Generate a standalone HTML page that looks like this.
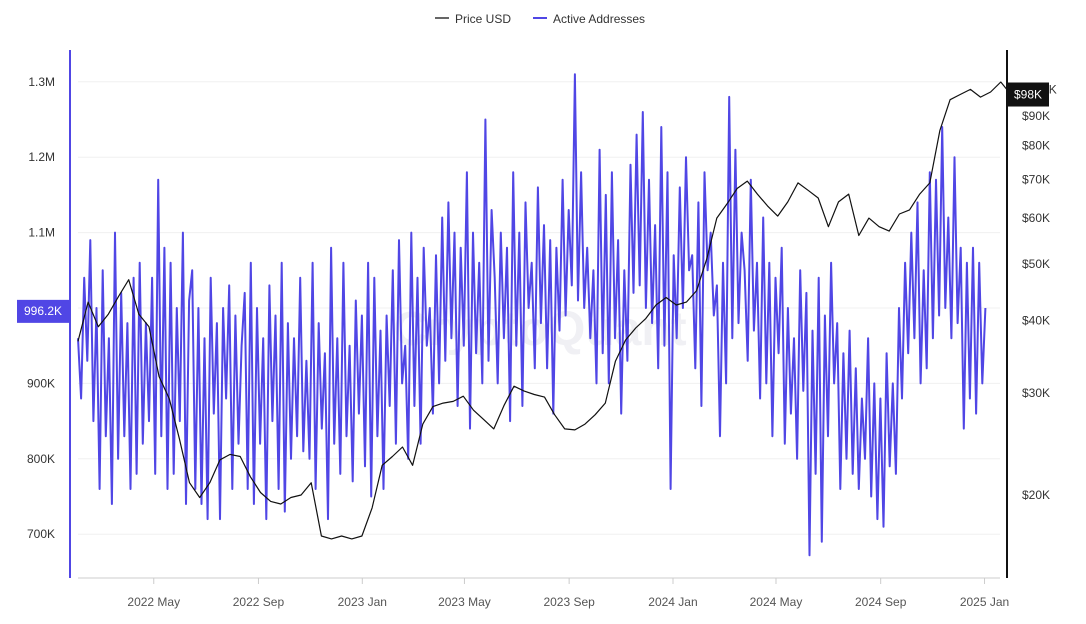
<!DOCTYPE html>
<html><head><meta charset="utf-8"><style>
body{margin:0;background:#fff;font-family:"Liberation Sans",sans-serif;}
svg text{font-family:"Liberation Sans",sans-serif;}
</style></head><body>
<svg id="chart" width="1086" height="619" viewBox="0 0 1086 619" xmlns="http://www.w3.org/2000/svg">
<g id="legend">
  <g><line x1="435" y1="18" x2="449" y2="18" stroke="#333" stroke-width="1.5"/><text x="455" y="23" font-size="12" fill="#333">Price USD</text></g>
  <g><line x1="533" y1="18" x2="547" y2="18" stroke="#5046e5" stroke-width="2"/><text x="553" y="23" font-size="12" fill="#333">Active Addresses</text></g>
</g>
<text x="540" y="345" font-size="48" fill="#f0f0f4" text-anchor="middle" font-weight="bold">CryptoQuant</text>
<g id="grid"></g>
<g id="axes"></g>
<g id="series"></g>
<g id="badges"></g>
</svg>
<script>
const activeTicks=[700,800,900,1000,1100,1200,1300];
const priceTicks=[20,30,40,50,60,70,80,90,100];
const monthLabels=["2022 May","2022 Sep","2023 Jan","2023 May","2023 Sep","2024 Jan","2024 May","2024 Sep","2025 Jan"];
const monthDates=["2022-05-01","2022-09-01","2023-01-01","2023-05-01","2023-09-01","2024-01-01","2024-05-01","2024-09-01","2025-01-01"];
const activeStart="2022-02-01", activeEnd="2025-01-02";
const priceStart="2022-02-01", priceEnd="2025-02-01";
const activeValues=[960,880,1040,930,1090,850,1000,760,1050,830,960,740,1100,800,1020,830,980,760,1040,780,
1060,820,980,850,1040,780,1170,830,1080,760,1060,780,1000,850,1100,740,1010,
1050,760,1000,740,960,720,1040,860,980,720,1000,880,1030,760,990,820,950,
1020,760,1060,740,1000,820,960,720,1030,850,990,760,1060,730,980,800,
960,830,1040,810,930,800,1060,760,980,840,940,720,1080,820,960,780,
1060,830,950,770,1010,860,990,790,1060,750,1040,830,970,760,990,870,
1050,820,1090,900,950,800,1100,870,1040,820,1080,950,1000,860,1070,900,
1120,930,1140,960,1100,870,1080,950,1180,840,1100,940,1060,900,1250,930,1130,
1040,900,1100,960,1080,850,1180,950,1100,870,1140,1000,1060,920,1160,980,
1110,920,1090,860,1080,970,1170,990,1130,1030,1310,1010,1180,1000,1080,960,
1050,900,1210,940,1150,900,1180,960,1090,860,1050,930,1190,1020,1230,1030,
1260,1000,1170,980,1110,920,1240,950,1180,760,1070,960,1160,1000,1200,1050,
1070,920,1140,870,1180,1050,1100,990,1030,830,1060,900,1280,960,1210,980,1100,
1050,930,1170,970,1060,880,1120,900,1060,830,1040,940,1080,820,1000,860,
960,800,1050,890,1020,672,970,780,1040,690,990,830,1060,900,980,760,
940,800,970,780,920,760,880,800,960,750,900,720,880,710,940,790,
900,780,1000,880,1060,940,1100,960,1140,900,1050,920,1180,960,
1170,990,1240,1000,1120,960,1200,980,1080,840,1060,880,1080,860,1060,900,1000];
const priceValues=[36.8,43,39,41,44,47,41,39,32,29.3,25,21,19.8,21,23,23.5,23.3,21.5,20.2,19.5,19.3,19.8,20,21,17,16.8,17,16.8,17,19,22.5,23.3,24.2,22.5,26.5,28.4,28.8,29,29.6,28,27,26,28.5,30.8,30.2,29.8,29.5,27.5,26,25.9,26.5,27.5,28.8,34,37,38.8,40.3,42.5,43.8,42.5,43,45,51,60,63.5,67.5,69.5,66,63,60.5,64,69,67,65,58,64,66,56,60,58,57,61,62,66,69,85,96,98,100,97,99,103,98];

const NS="http://www.w3.org/2000/svg";
const day=d=>Date.parse(d)/864e5;
const d0=day("2022-02-01");
function xScale(dn){return 78+(dn-d0)*0.8512;}
function yActive(v){return 308-(v-1000)*0.754;}
function yPrice(p){return 495-252*Math.log(p/20);}
function mk(tag,attrs,parent,txt){const e=document.createElementNS(NS,tag);for(const k in attrs)e.setAttribute(k,attrs[k]);if(txt!==undefined)e.textContent=txt;parent.appendChild(e);return e;}
const grid=document.getElementById('grid'),axes=document.getElementById('axes'),series=document.getElementById('series'),badges=document.getElementById('badges');
activeTicks.forEach(v=>{const y=yActive(v);
 const l=mk('line',{x1:78,x2:1000,y1:y,y2:y,stroke:'#f0f0f0','stroke-width':1},grid);
 
 
 const t=mk('text',{x:55,y:y+4,'font-size':12,fill:'#333','text-anchor':'end'},axes,v>=1000?(v/1000).toFixed(1)+'M':v+'K');
 
 });
priceTicks.forEach(p=>{const t=mk('text',{x:1022,y:yPrice(p)+4,'font-size':12,fill:'#333'},axes,'$'+p+'K');
 
 });
monthLabels.forEach((m,i)=>{const x=xScale(day(monthDates[i]));
 const tk=mk('line',{x1:x,x2:x,y1:578,y2:584,stroke:'#ccc'},axes);
 
 
 const t=mk('text',{x:x,y:606,'font-size':12,fill:'#555','text-anchor':'middle'},axes,m);
 
 });
const xa=mk('line',{x1:78,x2:1000,y1:578,y2:578,stroke:'#ccc'},axes);


const la=mk('line',{x1:70,x2:70,y1:50,y2:578,stroke:'#5046e5','stroke-width':2},axes);


const ra=mk('line',{x1:1007,x2:1007,y1:50,y2:578,stroke:'#111','stroke-width':2},axes);


// active line
let s0=day(activeStart),s1=day(activeEnd),n=activeValues.length;
let pts=activeValues.map((v,i)=>xScale(s0+(s1-s0)*i/(n-1)).toFixed(1)+','+yActive(v).toFixed(1)).join(' ');
const al=mk('polyline',{points:pts,fill:'none',stroke:'#5046e5','stroke-width':2,'stroke-linejoin':'round'},series);


s0=day(priceStart);s1=day(priceEnd);n=priceValues.length;
pts=priceValues.map((v,i)=>xScale(s0+(s1-s0)*i/(n-1)).toFixed(1)+','+yPrice(v).toFixed(1)).join(' ');
const pl=mk('polyline',{points:pts,fill:'none',stroke:'#111','stroke-width':1.2,'stroke-linejoin':'round'},series);


// badges
const lastA=996.2, lastP=98;
const ba=mk('g',{},badges);


let y=yActive(lastA);
mk('rect',{x:17,y:y-11,width:52,height:23,fill:'#5046e5'},ba);
mk('text',{x:43,y:y+4,'font-size':12,fill:'#fff','text-anchor':'middle'},ba,lastA+'K');
const bp=mk('g',{},badges);


y=yPrice(lastP);
mk('rect',{x:1008,y:y-12,width:41,height:24,fill:'#111'},bp);
mk('text',{x:1028,y:y+4,'font-size':12,fill:'#fff','text-anchor':'middle'},bp,'$'+lastP+'K');
</script>
</body></html>
